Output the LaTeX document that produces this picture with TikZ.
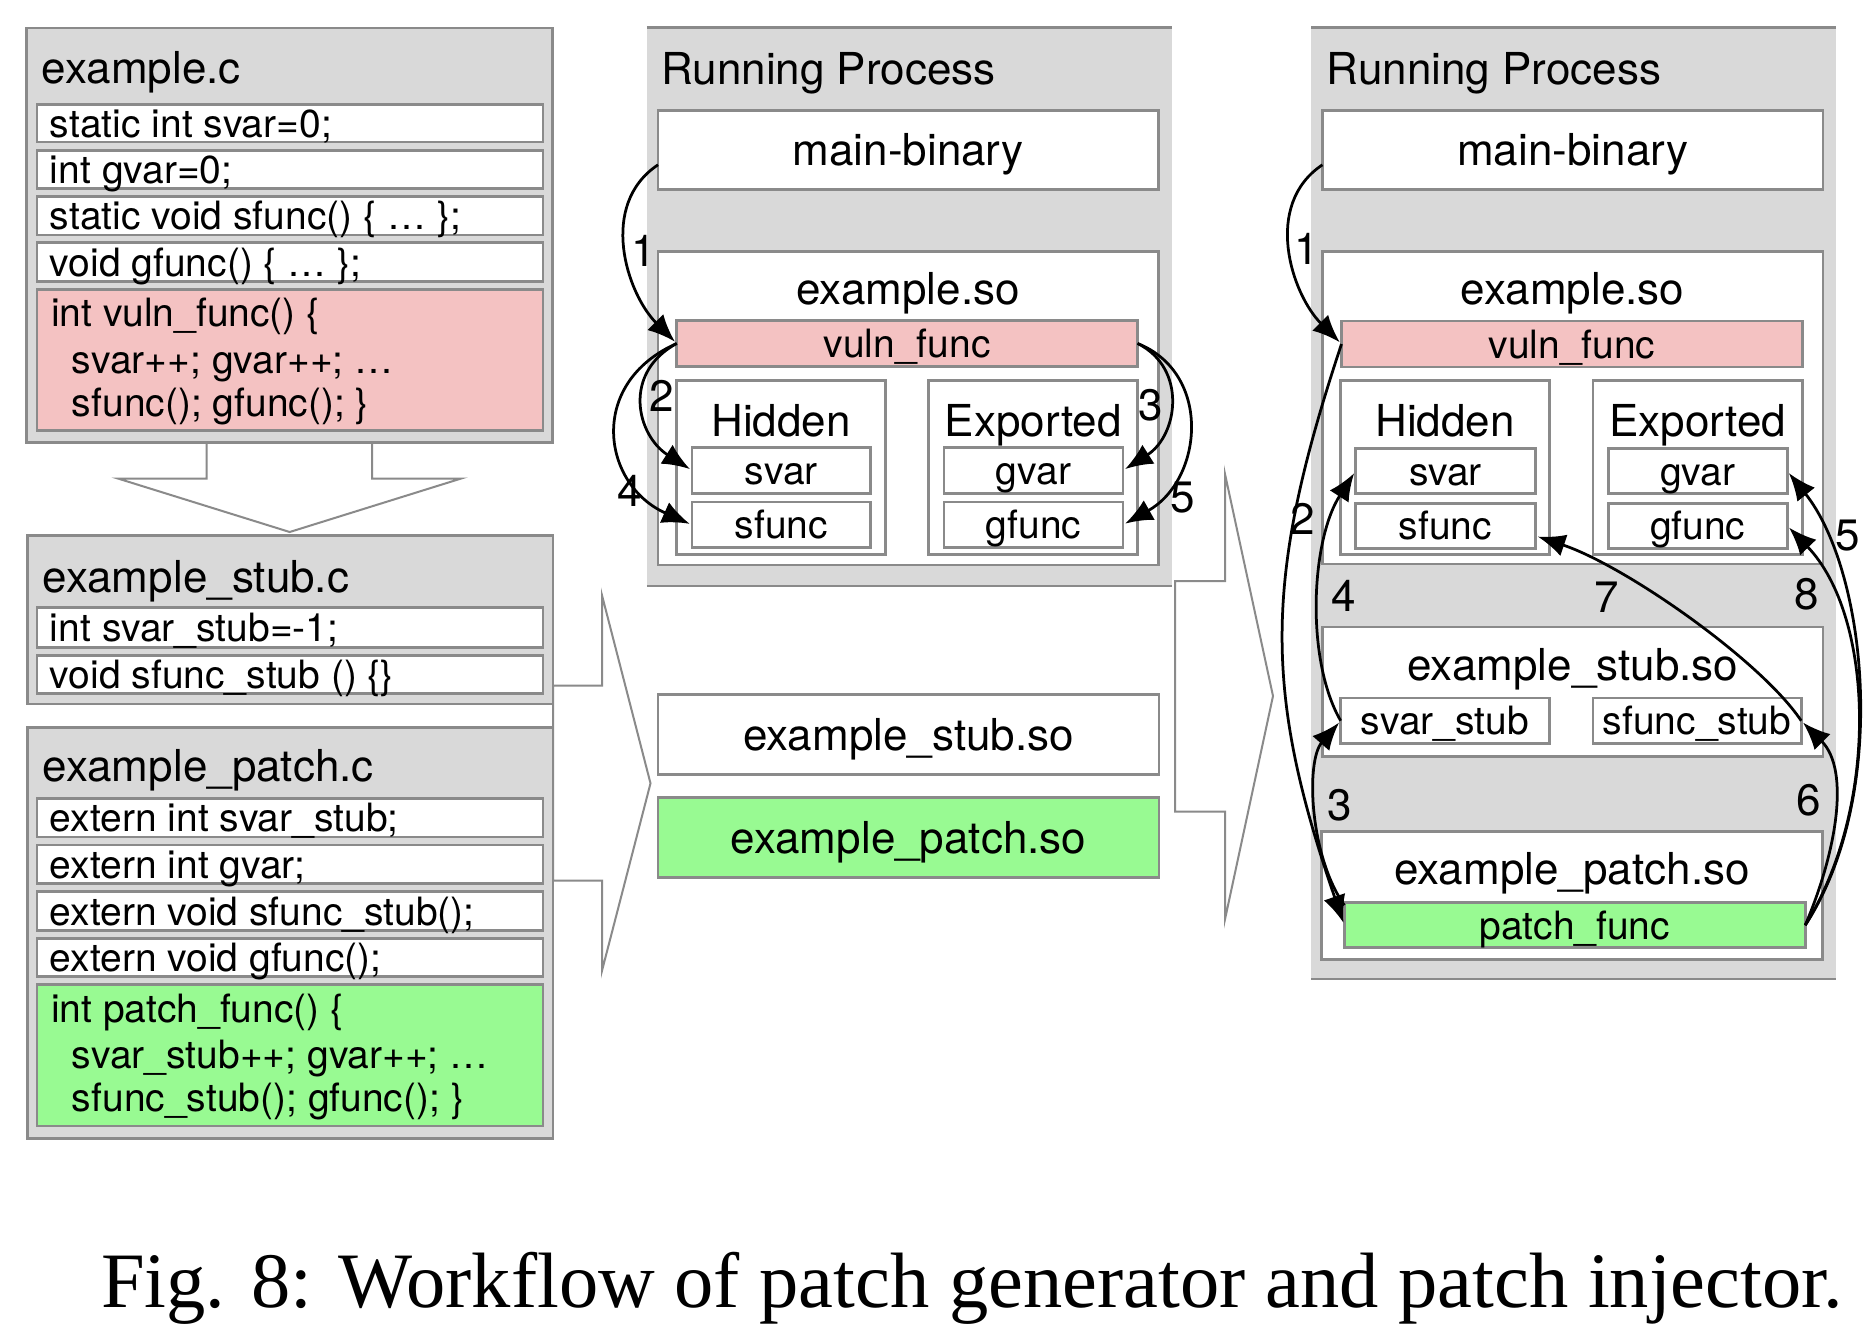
\documentclass[tikz,border=0pt]{standalone}
\usepackage{fontspec}
\setmainfont{TeX Gyre Heros}
\newfontfamily\capfont{Liberation Serif}
\usetikzlibrary{arrows.meta}
\definecolor{bggray}{RGB}{217,217,217}
\definecolor{bdgray}{RGB}{138,138,138}
\definecolor{vpink}{RGB}{244,194,194}
\definecolor{pgreen}{RGB}{152,250,146}
\newcommand{\mkbox}[7]{\node[#6, minimum width={(#4-#2)*0.4pt}, minimum height={(#5-#3)*0.4pt}] (#1) at ({(#2+#4)/2},{(#3+#5)/2}) {#7};}
\newcommand{\crow}[4]{\mkbox{#1}{37}{#2}{543}{#3}{box}{}\node[txt,smlf,capc,anchor=west] (#1t) at (50,{(#2+#3)/2}) {#4};}
\begin{document}
\begin{tikzpicture}[x=0.4pt,y=-0.4pt,
  box/.style={draw=bdgray, line width=1.1pt, fill=white, inner sep=0pt, outer sep=0pt},
  grp/.style={box, fill=bggray},
  plain/.style={fill=bggray, inner sep=0pt, outer sep=0pt},
  rpline/.style={draw=bdgray, line width=1.1pt},
  bigf/.style={font=\fontsize{17.6}{21}\selectfont},
  smlf/.style={font=\fontsize{15.6}{19}\selectfont},
  capb/.style={text height=12.6pt, text depth=0pt},
  capc/.style={text height=11.2pt, text depth=0pt},
  txt/.style={inner sep=0pt, outer sep=0pt},
  num/.style={txt, font=\fontsize{17.6}{21}\selectfont},
  arr/.style={-{Latex[length=11pt,width=9pt]}, line width=1.1pt, black, shorten >=1pt},
  bigarrow/.style={draw=bdgray, line width=0.8pt, fill=white, line join=miter}]
\fill[white] (0,0) rectangle (1874,1328);
\useasboundingbox (0,0) rectangle (1874,1328);

% big hollow arrows
\draw[bigarrow] (206.7,442.8) -- (206.7,478.5) -- (117.9,478.5) -- (289.7,532) -- (461.2,478.5) -- (372,478.5) -- (372,442.8);
\draw[bigarrow] (553,685.5) -- (602,685.5) -- (602,595.3) -- (650.5,783.3) -- (602,970.7) -- (602,880.5) -- (553,880.5) -- cycle;
\draw[bigarrow] (1175,581) -- (1225,581) -- (1225,474) -- (1273,696) -- (1225,919.3) -- (1225,811.5) -- (1175,811.5) -- cycle;

% left column
\mkbox{exc}{26.8}{27.9}{552.2}{442.8}{grp}{}
\node[txt,bigf,anchor=base west] (exct) at (42,83.9) {example.c};
\crow{r1}{104.3}{142.1}{static int svar=0;}
\crow{r2}{150.7}{188.2}{int gvar=0;}
\crow{r3}{196.4}{235}{static void sfunc() \{ … \};}
\crow{r4}{242.8}{281.4}{void gfunc() \{ … \};}
\mkbox{r5}{37}{289.3}{543}{430.3}{box,fill=vpink}{}
\node[txt,smlf,anchor=base west] (r5a) at (51,326.8) {int vuln\_func() \{};
\node[txt,smlf,anchor=base west] (r5b) at (72,373.2) {svar++; gvar++; …};
\node[txt,smlf,anchor=base west] (r5c) at (72,416) {sfunc(); gfunc(); \}};

\mkbox{stc}{27.7}{535.8}{552.9}{703.9}{grp}{}
\node[txt,bigf,anchor=base west] (stct) at (42.8,592) {example\_stub.c};
\crow{s1}{607.8}{647.3}{int svar\_stub=-1;}
\crow{s2}{655.2}{693.2}{void sfunc\_stub () \{\}}

\mkbox{ptc}{27.7}{727.6}{552.9}{1138.5}{grp}{}
\node[txt,bigf,anchor=base west] (ptct) at (42.8,781.8) {example\_patch.c};
\crow{p1}{798.8}{837.1}{extern int svar\_stub;}
\crow{p2}{845}{883.8}{extern int gvar;}
\crow{p3}{891.7}{930.4}{extern void sfunc\_stub();}
\crow{p4}{938.3}{976.7}{extern void gfunc();}
\mkbox{p5}{37}{984.6}{543}{1126}{box,fill=pgreen}{}
\node[txt,smlf,anchor=base west] (p5a) at (51,1022.1) {int patch\_func() \{};
\node[txt,smlf,anchor=base west] (p5b) at (72,1068.5) {svar\_stub++; gvar++; …};
\node[txt,smlf,anchor=base west] (p5c) at (72,1111.3) {sfunc\_stub(); gfunc(); \}};

% middle column
\mkbox{rp2}{646.8}{27.6}{1172}{586}{plain}{}
\draw[rpline] (rp2.north west) -- (rp2.north east);
\draw[rpline] (rp2.south west) -- (rp2.south east);
\node[txt,bigf,anchor=base west] (rp2t) at (661.3,84.2) {Running Process};
\mkbox{mb2}{658}{110.2}{1158.5}{189.4}{box,bigf,capb}{main-binary}
\mkbox{es2}{658}{251.4}{1158.5}{565}{box}{}
\node[txt,bigf,anchor=base] (es2t) at (908.2,304.2) {example.so};
\mkbox{vf2}{676.7}{320.7}{1137.6}{366.2}{box,fill=vpink,smlf,capc}{vuln\_func}
\mkbox{hd2}{676.7}{380.5}{885.2}{554.5}{box}{}
\node[txt,bigf,anchor=base] (hd2t) at (781,436.3) {Hidden};
\mkbox{sv2}{692}{447.5}{870.7}{493.3}{box,smlf,capc}{svar}
\mkbox{sf2}{692}{502}{870.7}{547.7}{box,smlf,capc}{sfunc}
\mkbox{ex2}{928.7}{380.5}{1137.6}{554.5}{box}{}
\node[txt,bigf,anchor=base] (ex2t) at (1033.2,436.3) {Exported};
\mkbox{gv2}{944}{447.5}{1123}{493.3}{box,smlf,capc}{gvar}
\mkbox{gf2}{944}{502}{1123}{547.7}{box,smlf,capc}{gfunc}
\mkbox{ss2}{658}{694.4}{1159}{774.4}{box,bigf,capb}{example\_stub.so}
\mkbox{ps2}{658}{797.6}{1159}{877.8}{box,fill=pgreen,bigf,capb}{example\_patch.so}

% right column
\mkbox{rp3}{1311}{27.6}{1836.3}{979}{plain}{}
\draw[rpline] (rp3.north west) -- (rp3.north east);
\draw[rpline] (rp3.south west) -- (rp3.south east);
\node[txt,bigf,anchor=base west] (rp3t) at (1326.8,84.2) {Running Process};
\mkbox{mb3}{1322.4}{110.2}{1823.1}{189.4}{box,bigf,capb}{main-binary}
\mkbox{es3}{1322.4}{251.4}{1823.1}{564}{box}{}
\node[txt,bigf,anchor=base] (es3t) at (1572.7,304.2) {example.so};
\mkbox{vf3}{1341.5}{321}{1802.4}{367}{box,fill=vpink,smlf,capc}{vuln\_func}
\mkbox{hd3}{1340.7}{380.5}{1549.3}{554.6}{box}{}
\node[txt,bigf,anchor=base] (hd3t) at (1445,436.3) {Hidden};
\mkbox{sv3}{1355.5}{448.5}{1535.4}{493.7}{box,smlf,capc}{svar}
\mkbox{sf3}{1355.5}{503.2}{1535.4}{548.4}{box,smlf,capc}{sfunc}
\mkbox{ex3}{1593}{380.5}{1802.4}{554.6}{box}{}
\node[txt,bigf,anchor=base] (ex3t) at (1697.7,436.3) {Exported};
\mkbox{gv3}{1608.2}{448.5}{1787.3}{493.7}{box,smlf,capc}{gvar}
\mkbox{gf3}{1608.2}{503.2}{1787.3}{548.4}{box,smlf,capc}{gfunc}
\mkbox{ss3}{1322.8}{626.9}{1823}{756.2}{box}{}
\node[txt,bigf,anchor=base] (ss3t) at (1572.9,680.6) {example\_stub.so};
\mkbox{svs3}{1340.7}{697.9}{1549.3}{743.6}{box,smlf,capc}{svar\_stub}
\mkbox{sfs3}{1593}{697.9}{1801.2}{743.6}{box,smlf,capc}{sfunc\_stub}
\mkbox{ps3}{1321.6}{831.5}{1822.3}{959.8}{box}{}
\node[txt,bigf,anchor=base] (ps3t) at (1572,884.6) {example\_patch.so};
\mkbox{pf3}{1344.3}{902.8}{1805.2}{947.6}{box,fill=pgreen,smlf,capc}{patch\_func}

% connectors middle
\draw[arr] ([yshift=-6pt]mb2.west) .. controls +(-60,40) and +(-50,-50) .. (vf2.west);
\draw[arr] (vf2.west) .. controls +(-55,30) and +(-55,-35) .. (sv2.west);
\draw[arr] (vf2.west) .. controls +(-90,40) and +(-90,-40) .. (sf2.west);
\draw[arr] (vf2.east) .. controls +(50,25) and +(55,-35) .. (gv2.east);
\draw[arr] (vf2.east) .. controls +(75,30) and +(80,-45) .. (gf2.east);

% connectors right
\draw[arr] ([yshift=-6pt]mb3.west) .. controls +(-60,40) and +(-50,-50) .. (vf3.west);
\draw[arr] (vf3.west) .. controls +(-78,235) and +(-81,-235) .. (pf3.west);
\draw[arr] ([yshift=8pt]pf3.west) .. controls +(-35,-50) and +(-35,40) .. (svs3.west);
\draw[arr] (svs3.west) .. controls +(-35,-60) and +(-45,70) .. (sv3.west);
\draw[arr] (pf3.east) .. controls +(85,-130) and +(80,100) .. (gv3.east);
\draw[arr] (pf3.east) .. controls +(30,-70) and +(50,50) .. (sfs3.east);
\draw[arr] (sfs3.east) .. controls +(-40,-60) and +(90,30) .. ([yshift=-4pt]sf3.east);
\draw[arr] (pf3.east) .. controls +(75,-120) and +(87,90) .. (gf3.east);

% labels
\node[num] (m1) at (643.5,250.7) {1};
\node[num] (m2) at (661.3,396) {2};
\node[num] (m4) at (629.8,491) {4};
\node[num] (m3) at (1150.5,405.7) {3};
\node[num] (m5) at (1182.4,497.5) {5};
\node[num] (n1) at (1306.5,248.8) {1};
\node[num] (n2) at (1303,519) {2};
\node[num] (n5) at (1847.5,536) {5};
\node[num] (n4) at (1343.5,596) {4};
\node[num] (n7) at (1607,597.7) {7};
\node[num] (n8) at (1806.4,594.4) {8};
\node[num] (n3) at (1339.6,805) {3};
\node[num] (n6) at (1809.2,800) {6};

% caption
\node[txt,anchor=base west,font=\capfont\fontsize{31.4}{36}\selectfont] (cap) at (101,1307) {Fig. 8: Workflow of patch generator and patch injector.};
\end{tikzpicture}
\end{document}
